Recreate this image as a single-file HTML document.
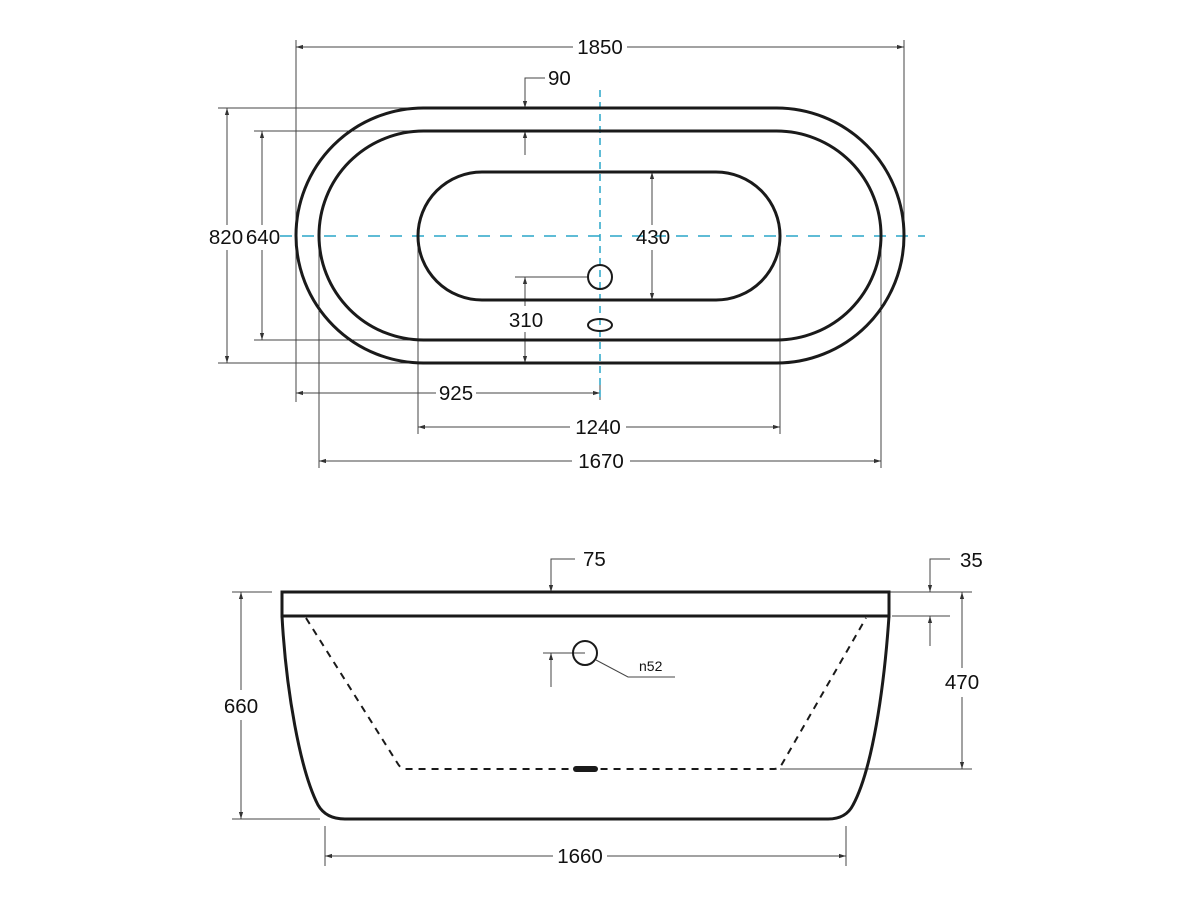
<!DOCTYPE html>
<html><head><meta charset="utf-8"><style>
html,body{margin:0;padding:0;background:#fff;width:1200px;height:900px;overflow:hidden}
text{font-family:"Liberation Sans",sans-serif;font-size:20.5px;fill:#111}
</style></head><body>
<svg width="1200" height="900" viewBox="0 0 1200 900" xmlns="http://www.w3.org/2000/svg">
<defs>
<marker id="a" viewBox="0 0 10 10" refX="10" refY="5" markerWidth="7" markerHeight="7" orient="auto-start-reverse"><path d="M0,2 L10,5 L0,8z" fill="#333"/></marker>
</defs>
<g stroke="#444" stroke-width="1" fill="none">
<line x1="296" y1="40" x2="296" y2="402"/>
<line x1="904" y1="40" x2="904" y2="236"/>
<line x1="218" y1="108" x2="420" y2="108"/>
<line x1="218" y1="363" x2="420" y2="363"/>
<line x1="254" y1="131" x2="420" y2="131"/>
<line x1="254" y1="340" x2="420" y2="340"/>
<line x1="319" y1="236" x2="319" y2="468"/>
<line x1="881" y1="236" x2="881" y2="468"/>
<line x1="418" y1="236" x2="418" y2="434"/>
<line x1="780" y1="236" x2="780" y2="434"/>
<line x1="600" y1="380" x2="600" y2="400"/>
<line x1="620" y1="172" x2="660" y2="172"/>
<line x1="620" y1="300" x2="660" y2="300"/>
<line x1="296" y1="47" x2="573" y2="47" marker-start="url(#a)"/>
<line x1="627" y1="47" x2="904" y2="47" marker-end="url(#a)"/>
<polyline points="545,78 525,78 525,108" marker-end="url(#a)"/>
<line x1="525" y1="155" x2="525" y2="131" marker-end="url(#a)"/>
<line x1="227" y1="108" x2="227" y2="225" marker-start="url(#a)"/>
<line x1="227" y1="250" x2="227" y2="363" marker-end="url(#a)"/>
<line x1="262" y1="131" x2="262" y2="225" marker-start="url(#a)"/>
<line x1="262" y1="250" x2="262" y2="340" marker-end="url(#a)"/>
<line x1="652" y1="172" x2="652" y2="225" marker-start="url(#a)"/>
<line x1="652" y1="250" x2="652" y2="300" marker-end="url(#a)"/>
<line x1="515" y1="277" x2="589" y2="277"/>
<line x1="525" y1="277" x2="525" y2="306" marker-start="url(#a)"/>
<line x1="525" y1="332" x2="525" y2="363" marker-end="url(#a)"/>
<line x1="296" y1="393" x2="436" y2="393" marker-start="url(#a)"/>
<line x1="476" y1="393" x2="600" y2="393" marker-end="url(#a)"/>
<line x1="418" y1="427" x2="570" y2="427" marker-start="url(#a)"/>
<line x1="626" y1="427" x2="780" y2="427" marker-end="url(#a)"/>
<line x1="319" y1="461" x2="572" y2="461" marker-start="url(#a)"/>
<line x1="630" y1="461" x2="881" y2="461" marker-end="url(#a)"/>
<line x1="232" y1="592" x2="272" y2="592"/>
<line x1="232" y1="819" x2="320" y2="819"/>
<line x1="241" y1="592" x2="241" y2="690" marker-start="url(#a)"/>
<line x1="241" y1="720" x2="241" y2="819" marker-end="url(#a)"/>
<polyline points="575,559 551,559 551,592" marker-end="url(#a)"/>
<line x1="543" y1="653" x2="585" y2="653"/>
<line x1="551" y1="687" x2="551" y2="653" marker-end="url(#a)"/>
<polyline points="596,660 628,677 675,677"/>
<line x1="890" y1="592" x2="972" y2="592"/>
<line x1="892" y1="616" x2="950" y2="616"/>
<line x1="780" y1="769" x2="972" y2="769"/>
<polyline points="950,559 930,559 930,592" marker-end="url(#a)"/>
<line x1="930" y1="646" x2="930" y2="616" marker-end="url(#a)"/>
<line x1="962" y1="592" x2="962" y2="668" marker-start="url(#a)"/>
<line x1="962" y1="697" x2="962" y2="769" marker-end="url(#a)"/>
<line x1="325" y1="826" x2="325" y2="866"/>
<line x1="846" y1="826" x2="846" y2="866"/>
<line x1="325" y1="856" x2="553" y2="856" marker-start="url(#a)"/>
<line x1="607" y1="856" x2="846" y2="856" marker-end="url(#a)"/>
</g>
<g stroke="#2aa5c8" stroke-width="1.5" stroke-dasharray="12,10" fill="none">
<line x1="280" y1="236" x2="925" y2="236"/>
<line x1="600" y1="90" x2="600" y2="402" stroke-dasharray="7,5"/>
</g>
<g stroke="#1a1a1a" stroke-width="3" fill="none">
<rect x="296" y="108" width="608" height="255" rx="127.5"/>
<rect x="319" y="131" width="562" height="209" rx="104.5"/>
<rect x="418" y="172" width="362" height="128" rx="64"/>
</g>
<g stroke="#1a1a1a" stroke-width="2" fill="none">
<circle cx="600" cy="277" r="12"/>
<ellipse cx="600" cy="325" rx="12" ry="6"/>
<circle cx="585" cy="653" r="12"/>
</g>
<g stroke="#1a1a1a" stroke-width="3" fill="none">
<rect x="282" y="592" width="607" height="24"/>
<path d="M282,616 C286,690 300,770 318,805 Q326,819 345,819 L828,819 Q846,819 853,805 C872,770 884,690 889,616"/>
</g>
<path d="M306,618 L398,764 Q401,769 406,769 L774,769 Q779,769 782,764 L866,618" stroke="#1a1a1a" stroke-width="2" stroke-dasharray="7,6" fill="none"/>
<rect x="573" y="766" width="25" height="6" rx="3" fill="#1a1a1a"/>
<text x="600" y="54" text-anchor="middle">1850</text>
<text x="548" y="85">90</text>
<text x="226" y="244" text-anchor="middle">820</text>
<text x="263" y="244" text-anchor="middle">640</text>
<text x="653" y="244" text-anchor="middle">430</text>
<text x="526" y="327" text-anchor="middle">310</text>
<text x="456" y="400" text-anchor="middle">925</text>
<text x="598" y="434" text-anchor="middle">1240</text>
<text x="601" y="468" text-anchor="middle">1670</text>
<text x="583" y="566">75</text>
<text x="960" y="567">35</text>
<text x="241" y="713" text-anchor="middle">660</text>
<text x="962" y="689" text-anchor="middle">470</text>
<text x="639" y="671" style="font-size:14px">n52</text>
<text x="580" y="863" text-anchor="middle">1660</text>
</svg>
</body></html>
